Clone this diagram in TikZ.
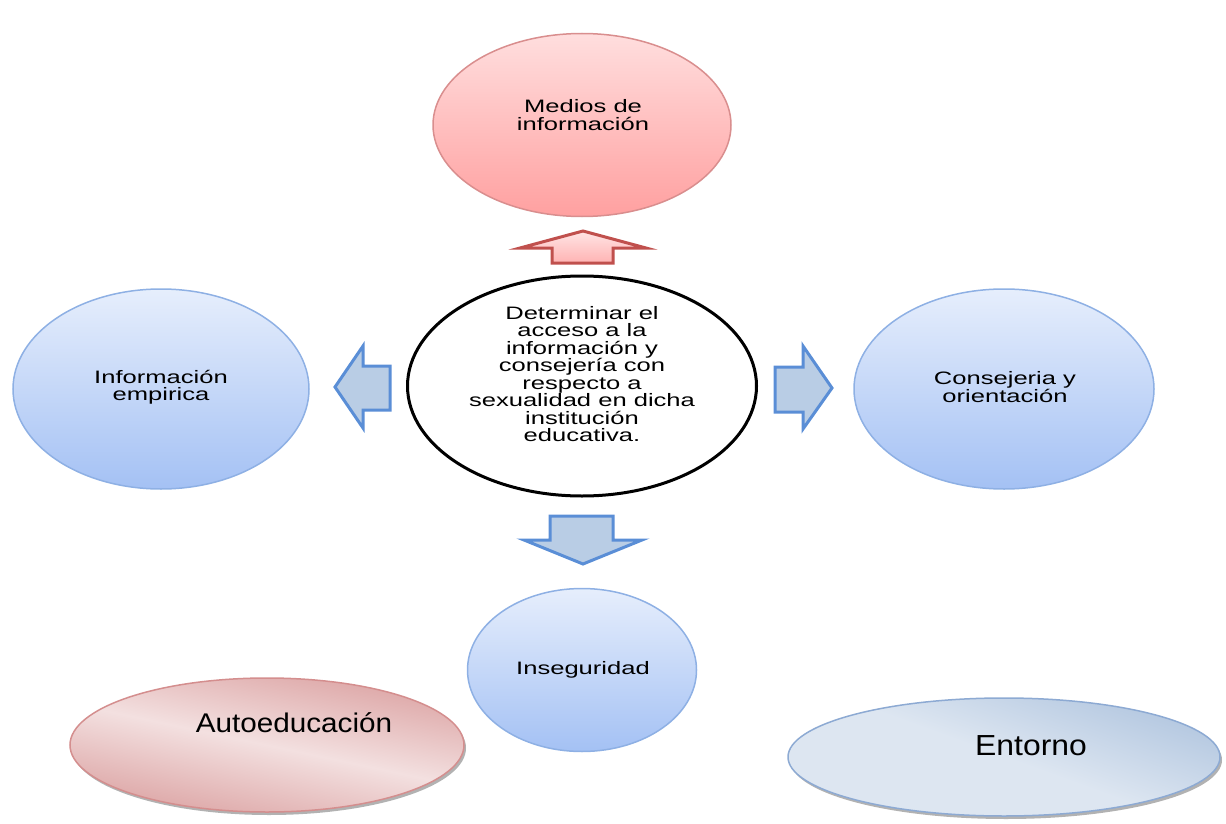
\documentclass[tikz,border=0pt]{standalone}
\usepackage{fontspec}
\setmainfont{Liberation Sans}
\newfontfamily\anchasans[FakeStretch=1.42]{Liberation Sans}
\newfontfamily\grandesans[FakeStretch=1.1]{Liberation Sans}
\usetikzlibrary{shapes.geometric,shadows}

\definecolor{rosaclaro}{HTML}{FFDEDE}
\definecolor{rosaoscuro}{HTML}{FFA0A0}
\definecolor{rosaborde}{HTML}{D98E8E}
\definecolor{azulclaro}{HTML}{E6EEFC}
\definecolor{azuloscuro}{HTML}{A4C1F4}
\definecolor{azulborde}{HTML}{8EB0E4}
\definecolor{flechaazul}{HTML}{5A8ED6}
\definecolor{flecharelleno}{HTML}{B9CDE5}
\definecolor{flecharoja}{HTML}{C0504D}
\definecolor{autoclaro}{HTML}{F3E0E0}
\definecolor{autooscuro}{HTML}{DCA4A4}
\definecolor{autoborde}{HTML}{D48E8E}
\definecolor{entornoclaro}{HTML}{DDE6F1}
\definecolor{entornooscuro}{HTML}{B3C7E0}
\definecolor{entornoborde}{HTML}{8DAAD3}

\tikzset{
  globo/.style={ellipse,draw,line width=1.5pt,inner sep=0pt},
  rosa/.style={globo,draw=rosaborde,top color=rosaclaro,bottom color=rosaoscuro},
  azul/.style={globo,draw=azulborde,top color=azulclaro,bottom color=azuloscuro},
  texto/.style={font=\anchasans\fontsize{18}{17.5}\selectfont,align=center,text=black,inner sep=0pt},
  textogrande/.style={font=\grandesans\fontsize{27}{27}\selectfont,text=black,inner sep=0pt},
  sombra/.style={drop shadow={shadow xshift=2pt,shadow yshift=-3pt,opacity=.55,fill=black!55}},
  flecha/.style={line width=3pt,line join=miter,draw=flechaazul,fill=flecharelleno},
}

\begin{document}
\begin{tikzpicture}[x=1pt,y=-1pt]
\useasboundingbox (0,0) rectangle (1226,824);

%Centro
\node[globo,draw=black,line width=3pt,fill=white,minimum width=349pt,minimum height=220pt] (centro) at (582,386) {};
\node[texto] (centrotxt) at (582,374) {Determinar el\\acceso a la\\información y\\consejería con\\respecto a\\sexualidad en dicha\\institución\\educativa.};

%Globos
\node[rosa,minimum width=298pt,minimum height=183pt] (medios) at (582,125) {};
\node[texto] (mediostxt) at (583,115) {Medios de\\información};

\node[azul,minimum width=296pt,minimum height=200pt] (empirica) at (161,389) {};
\node[texto] (empiricatxt) at (161,387) {Información\\empirica};

\node[azul,minimum width=300pt,minimum height=200pt] (consejeria) at (1004,389) {};
\node[texto] (consejeriatxt) at (1005,387) {Consejeria y\\orientación};

\node[azul,minimum width=229pt,minimum height=163pt] (inseguridad) at (582,670) {};
\node[texto] (inseguridadtxt) at (583,670) {Inseguridad};

%Abajo
\node[globo,sombra,draw=autoborde,top color=autooscuro,bottom color=autooscuro,middle color=autoclaro,shading angle=-12,
      minimum width=394pt,minimum height=134pt] (auto) at (267,745) {};
\node[textogrande] (autotxt) at (294,723) {Autoeducación};

\node[globo,sombra,draw=entornoborde,top color=entornooscuro,bottom color=entornoclaro,middle color=entornoclaro,shading angle=-20,
      minimum width=432pt,minimum height=118pt] (entorno) at (1004,757) {};
\node[textogrande,font=\grandesans\fontsize{29}{29}\selectfont] (entornotxt) at (1031,746) {Entorno};

%Flechas
\draw[line width=3pt,line join=miter,draw=flecharoja,top color=rosaclaro!80!white,bottom color=rosaoscuro!80!white]
  (583,231) -- (646,248) -- (613,248) -- (613,263) -- (552,263) -- (552,248) -- (520,248) -- cycle;
\draw[flecha] (335,387) -- (363,346) -- (363,366) -- (390,366) -- (390,410) -- (363,410) -- (363,428) -- cycle;
\draw[flecha] (775,367) -- (803,367) -- (803,346) -- (832,388) -- (803,429) -- (803,412) -- (775,412) -- cycle;
\draw[flecha] (550,516) -- (613,516) -- (613,540) -- (642,540) -- (583,564) -- (524,540) -- (550,540) -- cycle;

\end{tikzpicture}
\end{document}
